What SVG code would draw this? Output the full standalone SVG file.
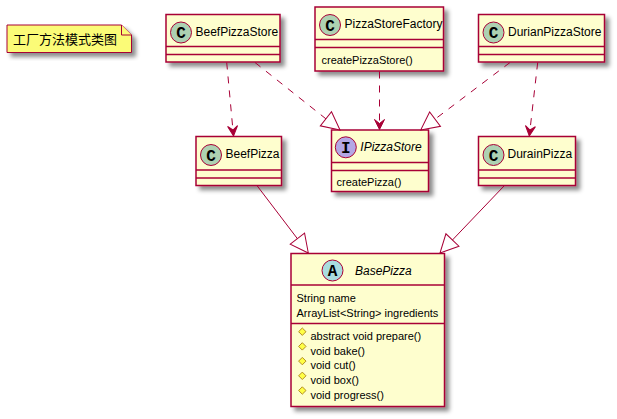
<svg xmlns="http://www.w3.org/2000/svg" width="617" height="419" viewBox="0 0 617 419">
<defs>
<filter id="sh" x="-10%" y="-10%" width="130%" height="140%">
<feGaussianBlur in="SourceAlpha" stdDeviation="2" result="b"/>
<feColorMatrix in="b" type="matrix" values="0 0 0 0 0  0 0 0 0 0  0 0 0 0 0  0 0 0 0.45 0" result="c"/>
<feOffset in="c" dx="4" dy="4" result="o"/>
<feMerge><feMergeNode in="o"/><feMergeNode in="SourceGraphic"/></feMerge>
</filter>
<marker id="dep" markerUnits="userSpaceOnUse" markerWidth="14" markerHeight="14" viewBox="-12 -7 14 14" refX="0" refY="0" orient="auto" overflow="visible">
<path d="M0,0 L-10,-5 L-6,0 L-10,5 Z" fill="#A80036" stroke="#A80036" stroke-width="1"/>
</marker>
<marker id="ext" markerUnits="userSpaceOnUse" markerWidth="22" markerHeight="22" viewBox="-20 -11 22 22" refX="0" refY="0" orient="auto" overflow="visible">
<path d="M0,0 L-18,-9 L-18,9 Z" fill="#FFFFFF" stroke="#A80036" stroke-width="1"/>
</marker>
</defs>
<style>
.box{fill:#FEFECE;stroke:#A80036;stroke-width:1.5}
.div{stroke:#A80036;stroke-width:1.5}
.name{font-family:"Liberation Sans",Arial,sans-serif;font-size:12px;fill:#000}
.mem{font-family:"Liberation Sans",Arial,sans-serif;font-size:11px;fill:#000}
.ital{font-style:italic}
.circ{stroke:#A80036;stroke-width:1}
.let{font-family:"Liberation Mono","DejaVu Sans Mono",monospace;font-weight:bold;font-size:16px;fill:#000;text-anchor:middle}
.dash{fill:none;stroke:#A80036;stroke-width:1;stroke-dasharray:7,7}
.solid{fill:none;stroke:#A80036;stroke-width:1}
.dia{fill:#FFFF44;stroke:#B38D22;stroke-width:1}
</style>

<g id="note">
<path d="M7,25 L121.5,25 L131.5,35 L131.5,52.5 L7,52.5 Z" fill="#FBFB77" stroke="#A80036" stroke-width="1" filter="url(#sh)"/>
<path d="M121.5,25 L121.5,35 L131.5,35" fill="#FBFB77" stroke="#A80036" stroke-width="1"/>
<text x="13" y="43.5" font-family="'Noto Sans CJK SC','Liberation Sans',sans-serif" font-size="13" fill="#000">工厂方法模式类图</text>
</g>

<g id="BeefPizzaStore">
<rect class="box" x="166" y="14.5" width="114" height="47.5" filter="url(#sh)"/>
<line class="div" x1="166" y1="46.5" x2="280" y2="46.5"/>
<line class="div" x1="166" y1="54.5" x2="280" y2="54.5"/>
<circle class="circ" cx="181" cy="32.5" r="10.5" fill="#ADD1B2"/>
<text class="let" x="181" y="38">C</text>
<text class="name" x="195.5" y="35.5">BeefPizzaStore</text>
</g>

<g id="PizzaStoreFactory">
<rect class="box" x="315" y="7" width="128.5" height="64" filter="url(#sh)"/>
<line class="div" x1="315" y1="39.5" x2="443.5" y2="39.5"/>
<line class="div" x1="315" y1="47.5" x2="443.5" y2="47.5"/>
<circle class="circ" cx="330" cy="25" r="10.5" fill="#ADD1B2"/>
<text class="let" x="330" y="30.5">C</text>
<text class="name" x="344.5" y="28">PizzaStoreFactory</text>
<text class="mem" x="321.5" y="63.5">createPizzaStore()</text>
</g>

<g id="DurianPizzaStore">
<rect class="box" x="478.5" y="14.5" width="126" height="47.5" filter="url(#sh)"/>
<line class="div" x1="478.5" y1="46.5" x2="604.5" y2="46.5"/>
<line class="div" x1="478.5" y1="54.5" x2="604.5" y2="54.5"/>
<circle class="circ" cx="493.5" cy="32.5" r="10.5" fill="#ADD1B2"/>
<text class="let" x="493.5" y="38">C</text>
<text class="name" x="508" y="35.5">DurianPizzaStore</text>
</g>

<g id="IPizzaStore">
<rect class="box" x="331.5" y="130" width="97" height="61.5" filter="url(#sh)"/>
<line class="div" x1="331.5" y1="162.5" x2="428.5" y2="162.5"/>
<line class="div" x1="331.5" y1="170.5" x2="428.5" y2="170.5"/>
<circle class="circ" cx="345.8" cy="147.3" r="10.5" fill="#B4A7E5"/>
<text class="let" x="345.8" y="152.8">I</text>
<text class="name ital" x="360.3" y="151">IPizzaStore</text>
<text class="mem" x="336.5" y="186">createPizza()</text>
</g>

<g id="BeefPizza">
<rect class="box" x="196" y="136.5" width="85.5" height="49" filter="url(#sh)"/>
<line class="div" x1="196" y1="170" x2="281.5" y2="170"/>
<line class="div" x1="196" y1="178" x2="281.5" y2="178"/>
<circle class="circ" cx="211" cy="155" r="10.5" fill="#ADD1B2"/>
<text class="let" x="211" y="160.5">C</text>
<text class="name" x="225.5" y="158">BeefPizza</text>
</g>

<g id="DurainPizza">
<rect class="box" x="478.5" y="136.5" width="97" height="49" filter="url(#sh)"/>
<line class="div" x1="478.5" y1="170" x2="575.5" y2="170"/>
<line class="div" x1="478.5" y1="178" x2="575.5" y2="178"/>
<circle class="circ" cx="493.5" cy="155" r="10.5" fill="#ADD1B2"/>
<text class="let" x="493.5" y="160.5">C</text>
<text class="name" x="507.5" y="158">DurainPizza</text>
</g>

<g id="BasePizza">
<rect class="box" x="291" y="253.5" width="153.5" height="153" filter="url(#sh)"/>
<line class="div" x1="291" y1="285" x2="444.5" y2="285"/>
<line class="div" x1="291" y1="323.5" x2="444.5" y2="323.5"/>
<circle class="circ" cx="332.5" cy="270.5" r="10.5" fill="#A9DCDF"/>
<text class="let" x="332.5" y="276">A</text>
<text class="name ital" x="355" y="274.5">BasePizza</text>
<text class="mem" x="296.5" y="301.5">String name</text>
<text class="mem" x="296.5" y="316.5">ArrayList&lt;String&gt; ingredients</text>
<path class="dia" d="M302.3,328 L306,331.7 L302.3,335.4 L298.6,331.7 Z"/>
<text class="mem" x="310.5" y="340">abstract void prepare()</text>
<path class="dia" d="M302.3,342.7 L306,346.4 L302.3,350.1 L298.6,346.4 Z"/>
<text class="mem" x="310.5" y="354.7">void bake()</text>
<path class="dia" d="M302.3,357.4 L306,361.1 L302.3,364.8 L298.6,361.1 Z"/>
<text class="mem" x="310.5" y="369.4">void cut()</text>
<path class="dia" d="M302.3,372.1 L306,375.8 L302.3,379.5 L298.6,375.8 Z"/>
<text class="mem" x="310.5" y="384.1">void box()</text>
<path class="dia" d="M302.3,386.8 L306,390.5 L302.3,394.2 L298.6,390.5 Z"/>
<text class="mem" x="310.5" y="398.8">void progress()</text>
</g>

<g id="connectors">
<line class="dash" x1="226.7" y1="62.5" x2="233.5" y2="136" marker-end="url(#dep)"/>
<line class="dash" x1="255" y1="62.5" x2="340" y2="130" marker-end="url(#ext)"/>
<line class="dash" x1="379.5" y1="71.5" x2="379.5" y2="129.5" marker-end="url(#dep)"/>
<line class="dash" x1="510" y1="62.5" x2="420.7" y2="130" marker-end="url(#ext)"/>
<line class="dash" x1="537.7" y1="62.5" x2="529.3" y2="136" marker-end="url(#dep)"/>
<line class="solid" x1="257.3" y1="186" x2="308.3" y2="253" marker-end="url(#ext)"/>
<line class="solid" x1="504" y1="186" x2="440" y2="253" marker-end="url(#ext)"/>
</g>
</svg>
